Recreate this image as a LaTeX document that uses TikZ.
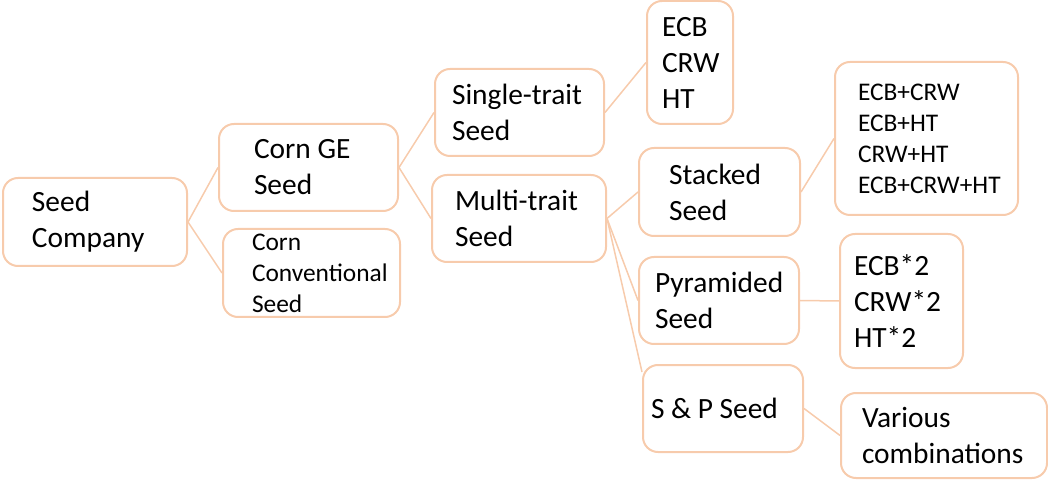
\documentclass[tikz,border=0pt]{standalone}
\usepackage{fontspec}
\setmainfont{Carlito}
\usetikzlibrary{calc, positioning}
\definecolor{peach}{RGB}{247,203,172}
\newcommand{\treefont}{\fontsize{14.7}{18}\selectfont}
\newcommand{\treefontsmall}{\fontsize{12.7}{15.5}\selectfont}
\hyphenpenalty=10000
\exhyphenpenalty=10000
\tikzset{
  box/.style = {draw=peach, line width=1pt, rounded corners=7.5pt,
                align=left, inner ysep=2pt, font=\treefont,
                execute at begin node={\spaceskip=0pt\xspaceskip=0pt\relax}},
  small box/.style = {box, font=\treefontsmall},
  link/.style = {draw=peach, line width=0.75pt},
}

\begin{document}
\begin{tikzpicture}[x=0.5pt, y=-0.5pt]
  \useasboundingbox (0,0) rectangle (1048,480);

  % Boxes, one level at a time
  \node (seed) [box, text width=63pt, inner xsep=14.5pt, minimum height=44pt]
    at (95,222) {Seed\\Company};

  \node (ge) [box, text width=54.5pt, inner xsep=17.5pt, minimum height=43.5pt]
    at (308.5,167.5) {\mbox{Corn GE}\\Seed};
  \node (conv) [small box, text width=59.5pt, inner xsep=14.5pt, minimum height=44pt]
    at (311.5,273) {Corn\\Conventional\\Seed};

  \node (single) [box, text width=67.5pt, inner xsep=8.5pt, minimum height=43.5pt]
    at (519.5,112.5) {Single-trait\\Seed};
  \node (multi) [box, text width=64pt, inner xsep=11.5pt, minimum height=43.5pt]
    at (519,218.5) {Multi-trait\\Seed};

  \node (single traits) [box, text width=28pt, inner xsep=7.5pt, minimum height=61.5pt]
    at (690,62.5) {ECB\\CRW\\HT};
  \node (stacked) [box, text width=50.5pt, inner xsep=15pt, minimum height=44pt]
    at (719.5,192) {Stacked\\Seed};
  \node (pyramided) [box, text width=64pt, inner xsep=8pt, minimum height=43.5pt]
    at (719,300.5) {Pyramided\\Seed};
  \node (sp) [box, text width=72pt, inner xsep=4pt, minimum height=43.5pt]
    at (723,408.5) {\mbox{S \& P Seed}};

  \node (stacked traits) [small box, text width=68.5pt, inner xsep=11.5pt, minimum height=76.5pt]
    at (926.5,138.5) {ECB+CRW\\ECB+HT\\CRW+HT\\ECB+CRW+HT};
  \node (pyramided traits) [box, text width=47.5pt, inner xsep=7pt, minimum height=67pt]
    at (901.5,301) {ECB*2\\CRW*2\\HT*2};
  \node (sp traits) [box, text width=82pt, inner xsep=10.5pt, minimum height=42.5pt]
    at (944,435.5) {Various\\combinations};

  % Connectors
  \draw [link] (seed.east) -- (ge.west);
  \draw [link] (seed.east) -- (conv.west);
  \draw [link] (ge.east) -- (single.west);
  \draw [link] (ge.east) -- (multi.west);
  \draw [link] (single.east) -- (single traits.west);
  \draw [link] (multi.east) -- (stacked.west);
  \draw [link] (multi.east) -- (pyramided.west);
  \draw [link] (multi.east) -- ($(sp.north west)!.09!(sp.south west)$);
  \draw [link] (stacked.east) -- (stacked traits.west);
  \draw [link] (pyramided.east) -- (pyramided traits.west);
  \draw [link] (sp.east) -- (sp traits.west);
\end{tikzpicture}
\end{document}
